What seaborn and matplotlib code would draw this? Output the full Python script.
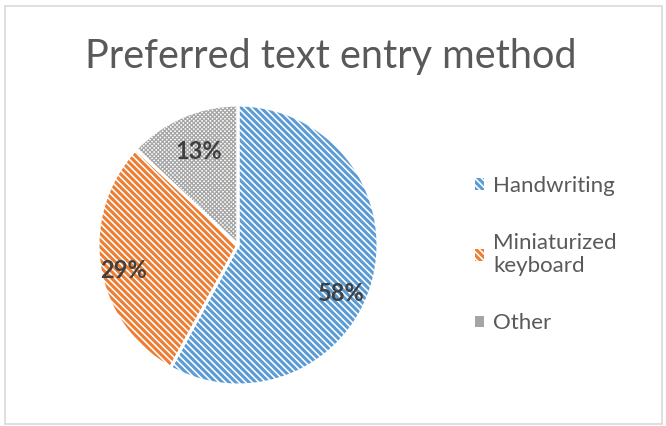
import matplotlib
matplotlib.use('Agg')
import matplotlib.pyplot as plt
import seaborn as sns
from matplotlib.patches import Patch, Rectangle

categories = ['Handwriting', 'Miniaturized\nkeyboard', 'Other']
values = [58, 29, 13]
colors = ['#5B9BD5', '#ED7D31', '#A5A5A5']
hatches = ['\\\\\\\\\\', '\\\\\\\\\\', 'xxxxxxxx']
hatch_lw = [2.2, 2.2, 0.9]
title = 'Preferred text entry method'

sns.set_theme(style='white')
plt.rcParams['font.family'] = ['Lato', 'DejaVu Sans']
plt.rcParams['hatch.linewidth'] = 2.2

W, H = 666, 426
fig = plt.figure(figsize=(W / 100, H / 100), dpi=100)
fig.patch.set_facecolor('white')

# chart frame
fig.patches.append(Rectangle((5 / W, 2 / H), 657 / W, 418 / H, transform=fig.transFigure,
                             fill=False, edgecolor='#D9D9D9', linewidth=1.2))

cx, cy, r = 238, 245, 140
ax = fig.add_axes([(cx - r) / W, (H - cy - r) / H, 2 * r / W, 2 * r / H])
wedges, texts, autotexts = ax.pie(values, colors=['white'] * 3, startangle=90, counterclock=False,
                                  autopct=lambda p: f'{p:.0f}%', pctdistance=0.8,
                                  wedgeprops=dict(linewidth=0))
for w, c, h, lw in zip(wedges, colors, hatches, hatch_lw):
    w.set_edgecolor(c)
    w.set_hatch(h)
    w.set_linewidth(0)
    if hasattr(w, 'set_hatch_linewidth'):
        w.set_hatch_linewidth(lw)
# white separators
ax.pie(values, colors=['none'] * 3, startangle=90, counterclock=False,
       wedgeprops=dict(linewidth=2.2, edgecolor='white', fill=False))

label_pos = [(0.735, -0.345), (-0.82, -0.18), (-0.28, 0.665)]
for t, p in zip(autotexts, label_pos):
    t.set_position(p)
    t.set_fontsize(17)
    t.set_fontweight('bold')
    t.set_color('#404040')
    t.set_ha('center')
    t.set_va('center')

ax.set_xlim(-1, 1)
ax.set_ylim(-1, 1)
ax.set_aspect('auto')
ax.axis('off')

fig.text(0.497, 1 - 68 / H, title, ha='center', va='baseline', fontsize=28.5, color='#595959')

handles = [Patch(facecolor='white', edgecolor=c, hatch=h, linewidth=0) for c, h in zip(colors, hatches)]
leg = fig.legend(handles, categories, loc='upper left', bbox_to_anchor=(475 / W, 1 - 176 / H),
                 frameon=False, fontsize=16, handlelength=0.42, handleheight=0.42,
                 handletextpad=0.4, labelspacing=1.68, borderpad=0, borderaxespad=0)
for t in leg.get_texts():
    t.set_color('#595959')
    t.set_linespacing(1.17)

fig.savefig('out.png', dpi=100, facecolor='white')
